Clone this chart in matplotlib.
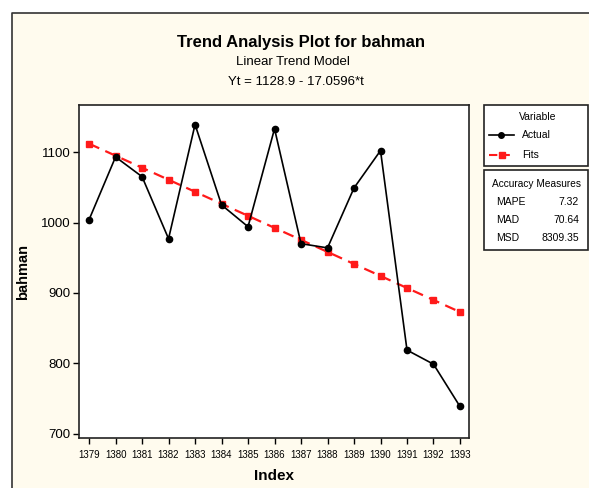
import matplotlib
matplotlib.use('Agg')
import matplotlib.pyplot as plt
from matplotlib.patches import Rectangle
from matplotlib.lines import Line2D

plt.rcParams['font.family'] = ['Liberation Sans', 'DejaVu Sans']

years = [1379, 1380, 1381, 1382, 1383, 1384, 1385, 1386, 1387, 1388,
         1389, 1390, 1391, 1392, 1393]
actual = [1004, 1093, 1065, 977, 1139, 1025, 994, 1133, 970, 964,
          1049, 1102, 819, 799, 739]
fits = [1111.8, 1094.8, 1077.7, 1060.7, 1043.6, 1026.5, 1009.5, 992.4,
        975.4, 958.3, 941.2, 924.2, 907.1, 890.1, 873.0]
yticks = [700, 800, 900, 1000, 1100]
measures = [("MAPE", "7.32"), ("MAD", "70.64"), ("MSD", "8309.35")]

W, H = 589, 488
cream = '#fffbee'

fig = plt.figure(figsize=(W / 100, H / 100), dpi=100, facecolor='white')


def fx(px):
    return px / W


def fy(py):
    return 1 - py / H


# outer cream panel with left/top frame
fig.patches.append(Rectangle((fx(12), 0), 1 - fx(12), fy(13), transform=fig.transFigure,
                             facecolor=cream, edgecolor='none', zorder=-5))
fig.lines.append(Line2D([fx(12), fx(12), 1], [0, fy(13), fy(13)], transform=fig.transFigure,
                        color='#333333', lw=1.2, zorder=-4))

ax = fig.add_axes([fx(79), fy(438), fx(469) - fx(79), fy(105) - fy(438)])
ax.set_zorder(2)
ax.set_facecolor('white')
ax.plot(years, actual, color='black', lw=1.2, marker='o', ms=4.5, zorder=3)
ax.plot(years, fits, color='#ff1a1a', lw=1.6, ls=(0, (5, 3)), marker='s', ms=5, zorder=2)

ax.set_xlim(1378.62, 1393.34)
ax.set_ylim(694.3, 1166.7)
ax.set_xticks(years)
ax.set_xticklabels([str(y) for y in years], fontsize=7)
ax.set_yticks(yticks)
ax.set_yticklabels([str(v) for v in yticks], fontsize=9.5)
ax.tick_params(direction='out', length=4, width=1, pad=2)
ax.tick_params(axis='x', pad=5)
for s in ax.spines.values():
    s.set_linewidth(1.2)
    s.set_color('#222222')
ax.set_xlabel('Index', fontsize=11, fontweight='bold', labelpad=6)
ax.set_ylabel('bahman', fontsize=10.5, fontweight='bold')
ax.yaxis.set_label_coords((30 - 79) / 390, 0.5)

fig.text(fx(301), fy(42), 'Trend Analysis Plot for bahman', ha='center', va='center',
         fontsize=12, fontweight='bold')
fig.text(fx(293), fy(62), 'Linear Trend Model', ha='center', va='center', fontsize=9.5)
fig.text(fx(296), fy(82), 'Yt = 1128.9 - 17.0596*t', ha='center', va='center', fontsize=9.5)

# legend box
fig.patches.append(Rectangle((fx(484), fy(166)), fx(588) - fx(484), fy(105) - fy(166),
                             transform=fig.transFigure, facecolor='white',
                             edgecolor='#222222', lw=1.2))
fig.text(fx(538), fy(117), 'Variable', ha='center', va='center', fontsize=7.5)
fig.lines.append(Line2D([fx(489), fx(501), fx(514)], [fy(135)] * 3, transform=fig.transFigure,
                        color='black', lw=1.2, marker='o', ms=4, markevery=[1]))
fig.lines.append(Line2D([fx(489), fx(502), fx(514)], [fy(155)] * 3, transform=fig.transFigure,
                        color='#ff1a1a', lw=1.5, ls=(0, (4, 2)), marker='s', ms=5, markevery=[1]))
fig.text(fx(522), fy(135), 'Actual', ha='left', va='center', fontsize=7.5)
fig.text(fx(522), fy(155), 'Fits', ha='left', va='center', fontsize=7.5)

# accuracy box
fig.patches.append(Rectangle((fx(484), fy(250)), fx(588) - fx(484), fy(170) - fy(250),
                             transform=fig.transFigure, facecolor='white',
                             edgecolor='#222222', lw=1.2))
fig.text(fx(536), fy(184), 'Accuracy Measures', ha='center', va='center', fontsize=7.3)
for i, (name, val) in enumerate(measures):
    yy = fy(202 + i * 18)
    fig.text(fx(496), yy, name, ha='left', va='center', fontsize=7.5)
    fig.text(fx(579), yy, val, ha='right', va='center', fontsize=7.5)

fig.savefig('out.png', dpi=100, facecolor=fig.get_facecolor())
